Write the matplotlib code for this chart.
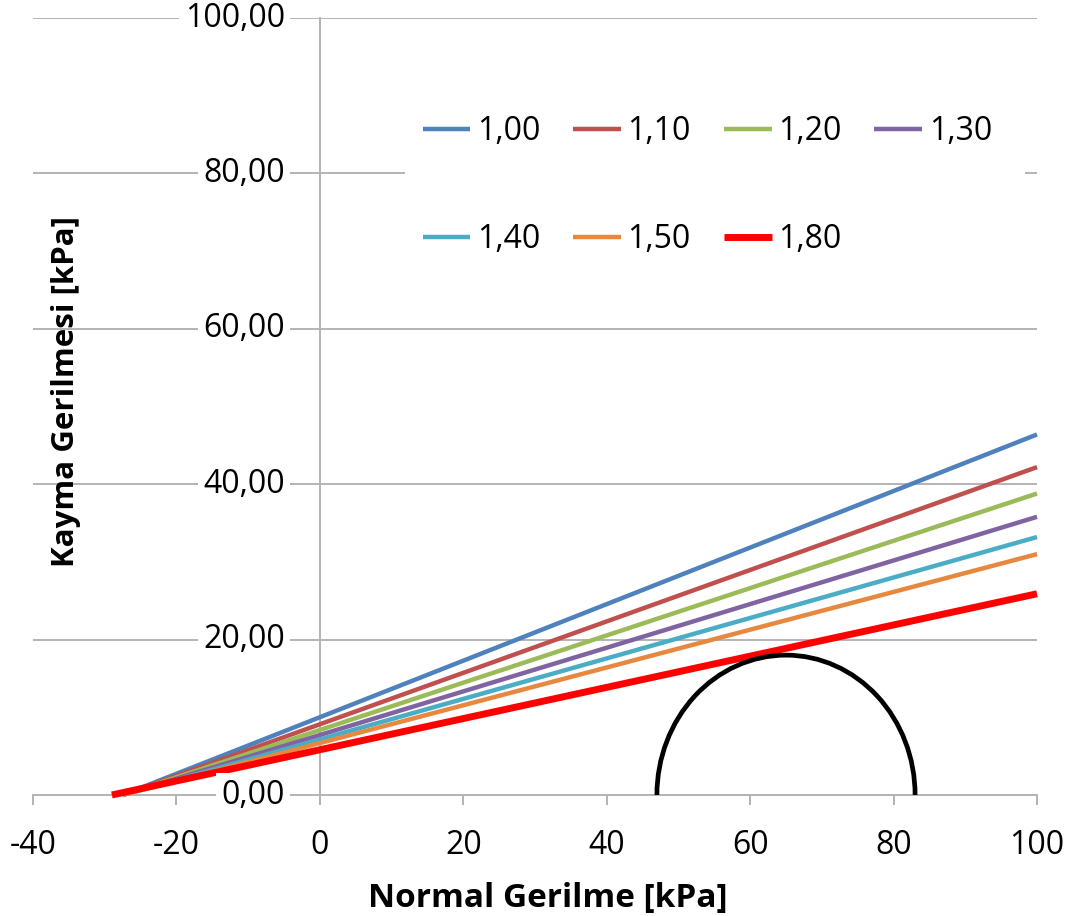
import matplotlib
matplotlib.use("Agg")
import matplotlib.pyplot as plt
from matplotlib.patches import Arc, Rectangle
from matplotlib.transforms import offset_copy

plt.rcParams['font.family'] = ['Open Sans', 'DejaVu Sans']

# Safety factors and the corresponding failure envelopes (tau vs sigma)
factors = ["1,00", "1,10", "1,20", "1,30", "1,40", "1,50", "1,80"]
colors = ["#4F81BD", "#C0504D", "#9BBB59", "#8064A2", "#4BACC6", "#E8883F", "#FF0000"]
widths = [3.2, 3.2, 3.2, 3.2, 3.2, 3.2, 5.0]
sigma_start = [-27.5, -27.5, -27.5, -27.5, -27.5, -27.5, -29.0]
sigma_end = [100.0] * 7
tau_start = [0.0] * 7
tau_end = [46.4, 42.2, 38.8, 35.8, 33.2, 31.0, 25.9]

# Mohr circle: minor and major principal stresses
sigma3, sigma1 = 47.0, 83.0

xticks = [-40, -20, 0, 20, 40, 60, 80, 100]
yticks = [0, 20, 40, 60, 80, 100]

fig = plt.figure(figsize=(10.69, 9.16), dpi=100)
W, H = 1069, 916
ax = fig.add_axes([33 / W, 1 - 795 / H, (1037 - 33) / W, (795 - 18) / H])
ax.set_xlim(-40, 100)
ax.set_ylim(0, 100)

grid_c = "#B3B3B3"
for v in yticks[1:]:
    ax.axhline(v, color=grid_c, lw=1.4, zorder=1)

for s in ["top", "right"]:
    ax.spines[s].set_visible(False)
ax.spines["left"].set_position(("data", 0))
ax.spines["left"].set_color(grid_c)
ax.spines["left"].set_linewidth(1.4)
ax.spines["bottom"].set_color(grid_c)
ax.spines["bottom"].set_linewidth(1.4)
ax.set_axisbelow(True)

ax.set_xticks(xticks)
ax.set_xticklabels([str(v) for v in xticks], fontsize=23)
ax.tick_params(axis="x", direction="out", length=7, width=1.4, color=grid_c, pad=17.5)
ax.set_yticks(yticks)
ax.set_yticklabels([])
ax.tick_params(axis="y", length=0)

lines = []
for i, lab in enumerate(factors):
    (ln,) = ax.plot([sigma_start[i], sigma_end[i]], [tau_start[i], tau_end[i]],
                    color=colors[i], lw=widths[i], label=lab, zorder=3,
                    solid_capstyle="butt", clip_on=False)
    lines.append(ln)

center = (sigma1 + sigma3) / 2
diam = sigma1 - sigma3
ax.add_patch(Arc((center, 0), diam, diam, theta1=0, theta2=180,
                 color="black", lw=3.4, zorder=4))

# y tick labels sit next to the axis at sigma = 0, on white boxes
lab_tr = offset_copy(ax.transData, fig=fig, x=-35, y=0, units="dots")
for v in yticks:
    ax.text(0, v, f"{v:.2f}".replace(".", ","), transform=lab_tr, ha="right",
            va="center", fontsize=23, zorder=10, clip_on=False,
            bbox=dict(facecolor="white", edgecolor="none", pad=4))

# legend, filled row by row, on a white panel
order = [0, 4, 1, 5, 2, 6, 3]
ax.add_patch(Rectangle((0.3705, 0.70), 0.6175, 0.20, transform=ax.transAxes,
                       facecolor="white", edgecolor="none", zorder=2))
leg = ax.legend(handles=[lines[k] for k in order], ncol=4, loc="upper left",
                bbox_to_anchor=(0.353, 0.92), fontsize=23, frameon=False,
                handlelength=1.5, handletextpad=0.2, columnspacing=1.03,
                labelspacing=2.35, borderpad=0.6)
leg.set_zorder(9)

fig.text(548 / W, 1 - 907 / H, "Normal Gerilme [kPa]", ha="center", va="baseline",
         fontsize=24, fontweight="bold")
fig.text(66 / W, 1 - 392 / H, "Kayma Gerilmesi [kPa]", ha="center", va="center",
         rotation=90, fontsize=22.5, fontweight="bold")

fig.savefig("out.png", dpi=100, facecolor="white")
